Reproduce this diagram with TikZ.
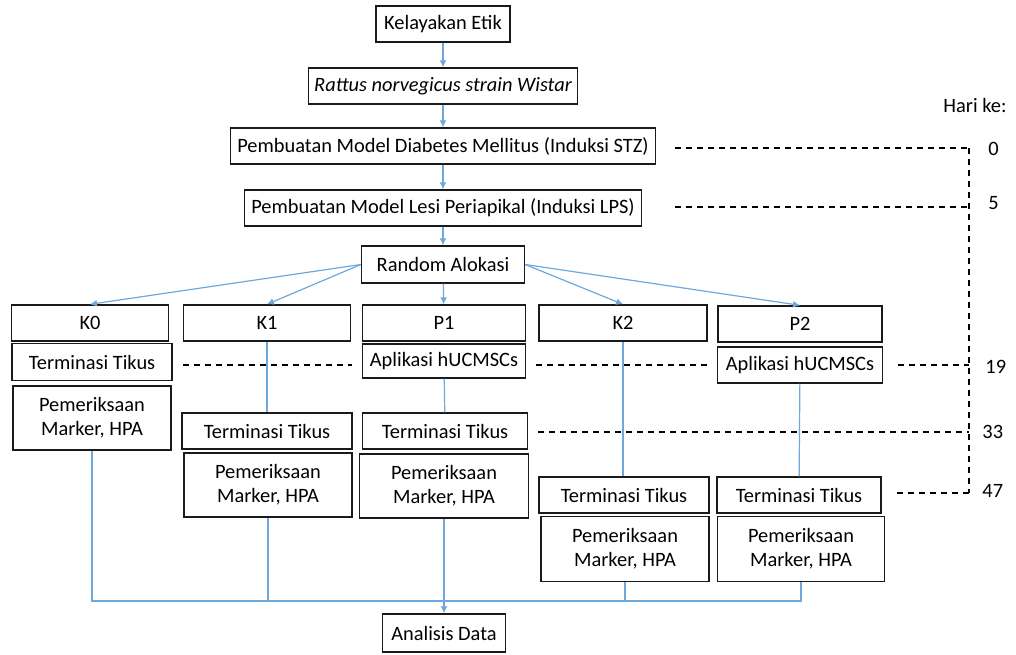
\documentclass[tikz,border=0pt]{standalone}
\usepackage{fontspec}
\setmainfont{Carlito}
\usepackage{xcolor}
\usepackage{tikz}
\usetikzlibrary{arrows.meta, positioning}
\definecolor{flowblue}{HTML}{6FA8DC}
\definecolor{boxline}{HTML}{1A1A1A}

\begin{document}
\begin{tikzpicture}[x=0.5pt, y=-0.5pt, >={Latex[length=3.5pt, width=3.5pt]}, font=\fontsize{10.2}{11.8}\selectfont]
    \tikzstyle{box} = [rectangle, draw=boxline, line width=0.7pt, minimum height=18pt, inner sep=2pt, text centered]
    \tikzstyle{group} = [box, minimum width=82pt]
    \tikzstyle{term} = [box, minimum width=84pt]
    \tikzstyle{exam} = [box, minimum width=84pt, minimum height=32pt, align=center]
    \tikzstyle{flow} = [draw=flowblue, line width=0.6pt]
    \tikzstyle{day} = [draw=black, line width=0.6pt, dash pattern=on 3pt off 2.5pt]
    \tikzstyle{daylabel} = [anchor=west, inner sep=0pt]

    \useasboundingbox (0,0) rectangle (1016,654);

    % persiapan hewan coba
    \node [box, minimum width=67pt] at (443,24) (etik) {Kelayakan Etik};
    \node [box, minimum width=134.5pt, below=12.3pt of etik] (tikus) {\itshape Rattus norvegicus strain Wistar};
    \node [box, minimum width=212.5pt, below=11.3pt of tikus] (dm) {Pembuatan Model Diabetes Mellitus (Induksi STZ)};
    \node [box, minimum width=198.5pt, below=12.3pt of dm] (lesi) {Pembuatan Model Lesi Periapikal (Induksi LPS)};
    \node [box, minimum width=81.5pt, minimum height=18.5pt, below=9.3pt of lesi] (acak) {Random Alokasi};

    % kelompok
    \node [group, minimum width=78.5pt] at (90,323) (k0) {K0};
    \node [group, minimum width=83.5pt] at (267,323) (k1) {K1};
    \node [group, minimum width=81.5pt] at (444,323) (p1) {P1};
    \node [group, minimum width=84pt] at (623,323) (k2) {K2};
    \node [group] at (800,324) (p2) {P2};

    \node [term, minimum width=80pt, minimum height=18.5pt] at (92,362) (k0term) {Terminasi Tikus};
    \node [exam, minimum width=79pt] at (92,418) (k0exam) {Pemeriksaan\\Marker, HPA};

    \node [term, minimum width=85pt] at (267,431) (k1term) {Terminasi Tikus};
    \node [exam] at (268,485) (k1exam) {Pemeriksaan\\Marker, HPA};

    \node [box, minimum width=81.5pt, minimum height=17pt] at (444,361) (p1apl) {Aplikasi hUCMSCs};
    \node [term, minimum width=82.5pt] at (445,431) (p1term) {Terminasi Tikus};
    \node [exam, minimum width=84.5pt] at (444,486) (p1exam) {Pemeriksaan\\Marker, HPA};

    \node [term, minimum width=85pt] at (624,495) (k2term) {Terminasi Tikus};
    \node [exam, minimum height=32.5pt] at (625,549) (k2exam) {Pemeriksaan\\Marker, HPA};

    \node [box, minimum width=82.5pt] at (800,365) (p2apl) {Aplikasi hUCMSCs};
    \node [term, minimum width=82pt] at (799,495) (p2term) {Terminasi Tikus};
    \node [exam, minimum width=83.5pt, minimum height=32.5pt] at (801,549) (p2exam) {Pemeriksaan\\Marker, HPA};

    \node [box, minimum width=61.5pt, minimum height=19pt] at (444,633) (analisis) {Analisis Data};

    % alur
    \path [flow, ->] (etik) -- (tikus);
    \path [flow, ->] (tikus) -- (dm);
    \path [flow, ->] (dm) -- (lesi);
    \path [flow, ->] (lesi) -- (acak);
    \path [flow, ->] (acak.west) -- (k0.north);
    \path [flow, ->] (acak.west) -- (k1.north);
    \path [flow, ->] (acak) -- (p1);
    \path [flow, ->] (acak.east) -- (k2.north);
    \path [flow, ->] (acak.east) -- (p2.north);

    \path [flow] (k1) -- (k1term);
    \path [flow] (p1apl) -- (p1term);
    \path [flow] (k2.south) -- (k2.south |- k2term.north);
    \path [flow] (p2apl) -- (p2term);

    \coordinate (bus) at (444,601);
    \path [flow] (k0exam) |- (bus) -| (p2exam);
    \path [flow] (k1exam) -- (k1exam |- bus);
    \path [flow] (k2exam) -- (k2exam |- bus);
    \path [flow, ->] (p1exam) -- (analisis);

    % garis waktu
    \coordinate (h0) at (969,148);
    \coordinate (h5) at (969,207);
    \coordinate (h19) at (969,365);
    \coordinate (h33) at (969,432);
    \coordinate (h47) at (969,493);
    \coordinate (s0) at (675,148);
    \coordinate (s5) at (675,207);

    \path [day] (s0) -- (h0);
    \path [day] (s5) -- (h5);
    \path [day, shorten <=5pt, shorten >=5pt] (k0term.east |- h19) -- (p1apl.west |- h19);
    \path [day, shorten <=5pt, shorten >=5pt] (p1apl.east |- h19) -- (p2apl.west |- h19);
    \path [day, shorten <=7.5pt] (p2apl.east |- h19) -- (h19);
    \path [day, shorten <=5pt] (p1term.east |- h33) -- (h33);
    \path [day, shorten <=7.5pt] (p2term.east |- h47) -- (h47);
    \path [day] (h0) -- (h47);

    \node at (975,105) (harike) {Hari ke:};
    \node [daylabel] at (988,149) (lbl0) {0};
    \node [daylabel] at (988,203) (lbl5) {5};
    \node [daylabel] at (985,367) (lbl19) {19};
    \node [daylabel] at (982,432) (lbl33) {33};
    \node [daylabel] at (982,491) (lbl47) {47};
\end{tikzpicture}
\end{document}
